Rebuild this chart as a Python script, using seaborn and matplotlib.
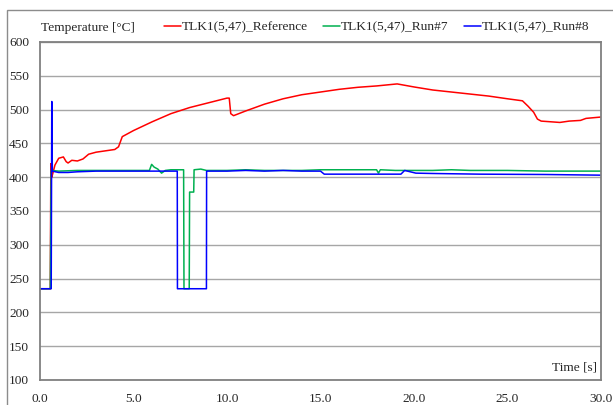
import matplotlib
matplotlib.use("Agg")
import matplotlib.pyplot as plt
from matplotlib.patches import Rectangle
import pandas as pd
import seaborn as sns

# Reference temperature trace
ref_time = [0, 0.55, 0.58, 0.63, 0.68, 0.8, 1.0, 1.25, 1.4, 1.5, 1.7, 2.0, 2.3, 2.6,
            3.0, 3.5, 4.0, 4.2, 4.4, 5.0, 6.0, 7.0, 8.0, 9.0, 10.0, 10.12, 10.2, 10.35,
            11.0, 12.0, 13.0, 14.0, 15.0, 16.0, 17.0, 18.0, 19.1, 20.0, 21.0, 22.0,
            23.0, 24.0, 25.0, 25.8, 26.1, 26.4, 26.6, 26.8, 27.3, 27.8, 28.3, 28.9,
            29.2, 30.0]
ref_temp = [235, 235, 420, 400, 405, 418, 428, 430, 423, 421, 425, 424, 427, 434,
            437, 439, 441, 445, 460, 469, 482, 494, 503, 510, 517, 517, 494, 491,
            498, 508, 516, 522, 526, 530, 533, 535, 538, 533.5, 529, 526,
            523, 520, 516, 513, 505, 496, 486, 483, 482, 481, 483, 484,
            487, 489]

# Run #7
run7_time = [0, 0.55, 0.6, 1.0, 2.0, 3.0, 4.0, 5.0, 5.85, 5.97, 6.1, 6.3, 6.5, 6.7,
             7.0, 7.68, 7.7, 7.98, 8.0, 8.22, 8.24, 8.6, 8.9, 10.0, 11.0, 12.0, 13.0,
             14.0, 15.0, 16.0, 17.0, 18.0, 18.1, 18.2, 19.0, 20.0, 21.0, 22.0, 23.0,
             25.0, 27.0, 30.0]
run7_temp = [235, 235, 410, 409, 410, 410, 410, 410, 410, 419, 415, 412, 406, 410,
             411, 411, 235, 235, 378, 378, 411, 412, 410, 410, 411, 410, 410,
             410, 411, 411, 411, 411, 406, 411, 410, 410, 410, 411, 410,
             410, 409, 409]

# Run #8
run8_time = [0, 0.6, 0.63, 0.66, 1.0, 1.5, 2.0, 3.0, 5.0, 7.0, 7.34, 7.35, 8.9, 8.91,
             10, 11, 12, 13, 14, 15.0, 15.2, 19.3, 19.5, 20.1, 21, 23.5, 27, 30]
run8_temp = [235, 235, 512, 409, 407, 407, 408, 409, 409, 409, 409, 235, 235, 409,
             409, 410, 409, 410, 409, 409, 404.5, 404.5, 410, 406, 405.5, 404.5, 404, 403]

series_names = ["TLK1(5,47)_Reference", "TLK1(5,47)_Run#7", "TLK1(5,47)_Run#8"]
series_colors = ["#FF0000", "#00B050", "#0000FF"]

y_ticks = list(range(100, 601, 50))
x_ticks = [0.0, 5.0, 10.0, 15.0, 20.0, 25.0, 30.0]

FS = 9.6

sns.set_style("white")
plt.rcParams["font.family"] = ["Liberation Serif", "DejaVu Serif"]
plt.rcParams["font.size"] = FS

fig = plt.figure(figsize=(6.13, 4.05), dpi=100)
ax = fig.add_axes([40 / 613, 1 - 380 / 405, 561 / 613, 338 / 405])

for name, color, t, v in zip(series_names, series_colors,
                             [ref_time, run7_time, run8_time],
                             [ref_temp, run7_temp, run8_temp]):
    df = pd.DataFrame({"time": t, "temp": v})
    sns.lineplot(data=df, x="time", y="temp", ax=ax, color=color, lw=1.1,
                 sort=False, estimator=None, label=name)

ax.set_xlim(0, 30)
ax.set_ylim(100, 600)
ax.set_yticks(y_ticks)
ax.set_yticklabels([str(v) for v in y_ticks])
ax.set_xticks(x_ticks)
ax.set_xticklabels([f"{v:.1f}" for v in x_ticks])
ax.set_xlabel("")
ax.set_ylabel("")
ax.yaxis.grid(True, color="#A6A6A6", lw=1.0)
ax.set_axisbelow(True)
for s in ax.spines.values():
    s.set_color("#808080")
    s.set_linewidth(1.3)
ax.tick_params(axis="y", direction="out", length=3, width=1, color="#808080",
               labelsize=FS, pad=5)
ax.tick_params(axis="x", direction="out", length=3, width=1, color="#808080",
               labelsize=FS, pad=6)

ax.text(0.993, 0.018, "Time [s]", transform=ax.transAxes, ha="right", va="bottom",
        fontsize=FS)
fig.text(41 / 613, 1 - 27.5 / 405, "Temperature [°C]", ha="left", va="center",
         fontsize=FS)

ax.legend(loc="center left", bbox_to_anchor=(164 / 613, 1 - 27.5 / 405),
          bbox_transform=fig.transFigure, ncol=3, frameon=False, fontsize=FS,
          handlelength=1.25, handletextpad=0.05, columnspacing=1.2,
          borderpad=0, borderaxespad=0)

fig.patches.append(Rectangle((7 / 613, -0.1), 1.2, 1 - 10 / 405 + 0.1,
                             transform=fig.transFigure, fill=False,
                             edgecolor="#8C8C8C", lw=1.0))

fig.savefig("out.png", dpi=100)
